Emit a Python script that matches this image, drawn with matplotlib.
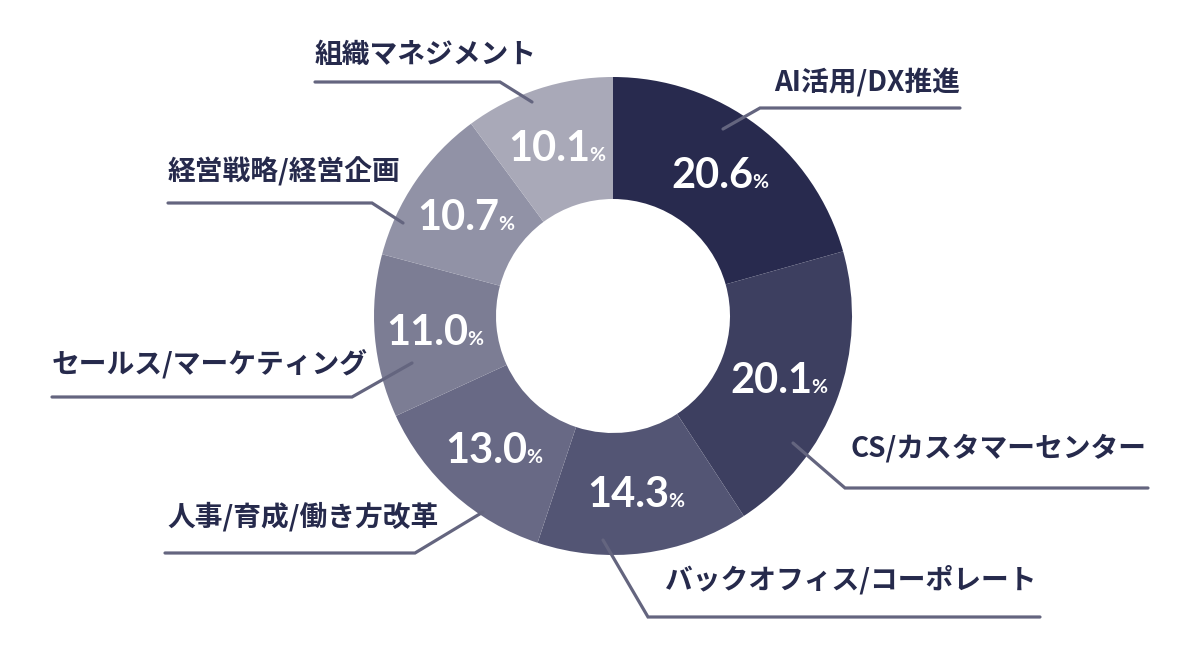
import matplotlib.pyplot as plt
import numpy as np

plt.rcParams['font.family'] = ['Noto Sans CJK JP', 'DejaVu Sans']

categories = ['AI活用/DX推進', 'CS/カスタマーセンター', 'バックオフィス/コーポレート',
              '人事/育成/働き方改革', 'セールス/マーケティング', '経営戦略/経営企画', '組織マネジメント']
shares = [20.6, 20.1, 14.3, 13.0, 11.0, 10.7, 10.1]
colors = ['#282a4e', '#3d3f60', '#535574', '#686985', '#7c7d94', '#9192a6', '#a9a9b8']

text_color = '#262a4c'
line_color = '#64657f'

W, H = 1200, 660
cx, cy = 613, 316          # pixel coords, y down
r_out, r_in = 239, 117

# leader lines (start, elbow, end) and label anchor, all in pixels with y down
leaders = [
    ((723, 129), (760, 108), (960, 108)),
    ((793, 443), (845, 488), (1148, 488)),
    ((603, 540), (648, 617), (1040, 617)),
    ((483, 512), (415, 553), (165, 553)),
    ((412, 363), (352, 397), (52, 397)),
    ((403, 223), (372, 203), (168, 203)),
    ((532, 102), (500, 82), (315, 82)),
]
label_pos = [(960, 83, 'right'), (1147, 448, 'right'), (1036, 580, 'right'),
             (167, 517, 'left'), (52, 364, 'left'), (168, 172, 'left'), (315, 55, 'left')]


def P(x, y):
    return x, H - y


fig = plt.figure(figsize=(12, 6.6), dpi=100)
ax = fig.add_axes([0, 0, 1, 1])

ax.pie(shares, colors=colors, startangle=90, counterclock=False, radius=r_out,
       center=P(cx, cy), wedgeprops=dict(width=r_out - r_in, linewidth=0))
ax.set_xlim(0, W)
ax.set_ylim(0, H)
ax.set_aspect('auto')
ax.axis('off')

# percent labels inside the ring
fr = np.array(shares) / sum(shares)
mids = np.cumsum(fr) - fr / 2
r_lab = (r_out + r_in) / 2
renderer = fig.canvas.get_renderer()
for v, m in zip(shares, mids):
    ang = np.radians(90 - 360 * m)
    x = cx + r_lab * np.cos(ang)
    y = cy - r_lab * np.sin(ang) + 14
    num = ax.text(0, 0, '%.1f' % v, fontsize=30, fontweight='bold', color='white',
                  family=['Lato', 'DejaVu Sans'], ha='left', va='baseline')
    pct = ax.text(0, 0, '%', fontsize=14, fontweight='bold', color='white',
                  family=['Lato', 'DejaVu Sans'], ha='left', va='baseline')
    wn = num.get_window_extent(renderer).width
    wp = pct.get_window_extent(renderer).width
    x0 = x - (wn + wp) / 2
    num.set_position(P(x0, y))
    pct.set_position(P(x0 + wn - 1, y))

# leader lines and category labels
for name, (a, b, c), (tx, ty, ha) in zip(categories, leaders, label_pos):
    xs = [a[0], b[0], c[0]]
    ys = [H - a[1], H - b[1], H - c[1]]
    ax.plot(xs, ys, color=line_color, lw=2.3, solid_capstyle='round', solid_joinstyle='miter')
    ax.text(*P(tx, ty), name, fontsize=20, fontweight='bold', color=text_color,
            ha=ha, va='center')

fig.savefig('out.png', dpi=100)
